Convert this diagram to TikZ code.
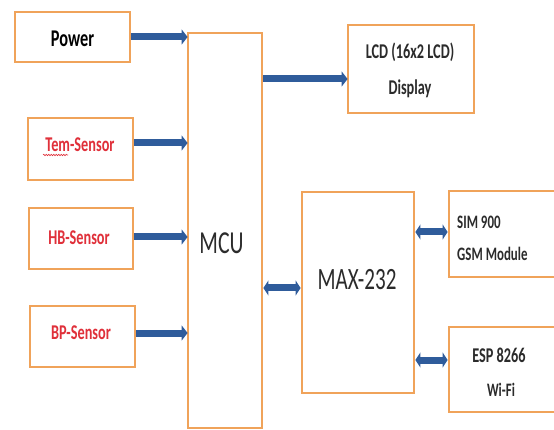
\documentclass[tikz,border=0pt]{standalone}
\usepackage{fontspec}
\setmainfont{Carlito}
\usetikzlibrary{arrows.meta,decorations.pathmorphing}
\definecolor{boxorange}{HTML}{F0A35A}
\definecolor{arrowblue}{HTML}{2F5C9B}
\definecolor{txtred}{HTML}{E0303A}
\definecolor{txtdark}{HTML}{2B2B2B}
\newcommand{\cnd}[1]{\scalebox{0.68}[1]{#1}}
\tikzset{
  blk/.style={draw=boxorange, line width=2.8pt, fill=white, inner sep=0pt},
  flow/.style={draw=arrowblue, line width=7pt, -{Triangle[length=6pt,width=15pt]}, shorten >=-1pt},
  bidir/.style={draw=arrowblue, line width=7pt, {Triangle[length=5pt,width=15pt]}-{Triangle[length=5pt,width=15pt]}},
  lbl/.style={inner sep=0pt, text=txtdark},
}
\begin{document}
\begin{tikzpicture}[x=1pt,y=-1pt]
\useasboundingbox (0,0) rectangle (554,430);
\clip (0,0) rectangle (554,430);
% boxes
\node[blk, minimum width=115pt, minimum height=50pt] (power) at (72.5,37) {};
\node[blk, minimum width=105pt, minimum height=62pt] (tem) at (80.5,149) {};
\node[blk, minimum width=104pt, minimum height=61pt] (hb) at (81,238.5) {};
\node[blk, minimum width=105pt, minimum height=61pt] (bp) at (82.5,336.5) {};
\node[blk, minimum width=74pt, minimum height=395pt] (mcu) at (225,230.5) {};
\node[blk, minimum width=126pt, minimum height=88pt] (lcd) at (411,69) {};
\node[blk, minimum width=112pt, minimum height=201pt] (max) at (358,292.5) {};
\node[blk, minimum width=112pt, minimum height=86pt] (sim) at (505,234) {};
\node[blk, minimum width=112pt, minimum height=85pt] (esp) at (505,369.5) {};
% texts
\node[lbl, text=black] (powert) at (72.5,39) {\fontsize{24}{24}\selectfont\bfseries\cnd{Power}};
\node[lbl, text=txtred] (temt) at (80,145) {\fontsize{21}{21}\selectfont\bfseries\cnd{Tem-Sensor}};
\draw[txtred, line width=0.6pt, decorate, decoration={snake, amplitude=0.7pt, segment length=2.5pt}] (43,155) -- (68,155);
\node[lbl, text=txtred] (hbt) at (79,238) {\fontsize{21}{21}\selectfont\bfseries\cnd{HB-Sensor}};
\node[lbl, text=txtred] (bpt) at (81,333) {\fontsize{21}{21}\selectfont\bfseries\cnd{BP-Sensor}};
\node[lbl] (mcut) at (221.5,243) {\fontsize{32}{32}\selectfont\cnd{MCU}};
\node[lbl] (maxt) at (357,280) {\fontsize{31}{31}\selectfont\cnd{MAX-232}};
\node[lbl] (lcdt1) at (410,52) {\fontsize{21}{21}\selectfont\bfseries\cnd{LCD (16x2 LCD)}};
\node[lbl] (lcdt2) at (410,89) {\fontsize{21}{21}\selectfont\bfseries\cnd{Display}};
\node[lbl, anchor=west] (simt1) at (457,222) {\fontsize{19}{19}\selectfont\bfseries\cnd{SIM 900}};
\node[lbl, anchor=west] (simt2) at (457,254) {\fontsize{19}{19}\selectfont\bfseries\cnd{GSM Module}};
\node[lbl] (espt1) at (499,355) {\fontsize{21}{21}\selectfont\bfseries\cnd{ESP 8266}};
\node[lbl] (espt2) at (501,390) {\fontsize{19}{19}\selectfont\bfseries\cnd{Wi-Fi}};
% connectors
\draw[flow] (power.east) -- (power.east -| mcu.west);
\draw[flow] ([yshift=6pt]tem.east) -- ([yshift=6pt]tem.east -| mcu.west);
\draw[flow] ([yshift=1.5pt]hb.east) -- ([yshift=1.5pt]hb.east -| mcu.west);
\draw[flow] ([yshift=3.5pt]bp.east) -- ([yshift=3.5pt]bp.east -| mcu.west);
\draw[flow] ([yshift=-10pt]lcd.west -| mcu.east) -- ([yshift=-10pt]lcd.west);
\draw[bidir] ([yshift=4.5pt]max.west -| mcu.east) -- ([yshift=4.5pt]max.west);
\draw[bidir] ([yshift=2pt]sim.west -| max.east) -- ([yshift=2pt]sim.west);
\draw[bidir] ([yshift=9.5pt]esp.west -| max.east) -- ([yshift=9.5pt]esp.west);
\end{tikzpicture}
\end{document}
